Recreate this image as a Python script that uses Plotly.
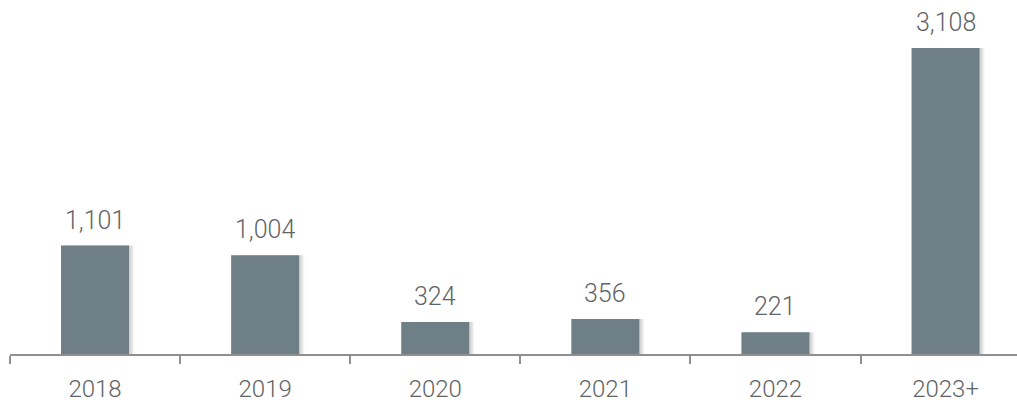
import plotly.graph_objects as go

categories = ["2018", "2019", "2020", "2021", "2022", "2023+"]
values = [1101, 1004, 324, 356, 221, 3108]
value_labels = ["1,101", "1,004", "324", "356", "221", "3,108"]

bar_color = "#6e7f86"
text_color = "#5f6466"
font_family = "Roboto, 'Open Sans', sans-serif"

fig = go.Figure()

# soft shadow layers
for dx, alpha in [(0.03, 0.05), (0.022, 0.07), (0.014, 0.09)]:
    fig.add_trace(go.Bar(
        x=categories, y=values, width=0.4, offset=-0.2 + dx,
        marker=dict(color=f"rgba(60,60,60,{alpha})", line=dict(width=0)),
        hoverinfo="skip", showlegend=False,
    ))

fig.add_trace(go.Bar(
    x=categories, y=values, width=0.4, offset=-0.2,
    marker=dict(color=bar_color, line=dict(width=0)),
    showlegend=False,
))

for i, (v, t) in enumerate(zip(values, value_labels)):
    fig.add_annotation(
        x=i, y=v, xref="x", yref="y", text=t, showarrow=False,
        yanchor="bottom", yshift=9,
        font=dict(family=font_family, size=25, color=text_color, weight=300),
    )

fig.update_layout(
    width=1017, height=402,
    margin=dict(l=10, r=0, t=0, b=48, autoexpand=False),
    paper_bgcolor="white", plot_bgcolor="white",
    barmode="overlay",
    bargap=0.6,
)
fig.update_xaxes(
    type="category", range=[-0.5, 5.42], automargin=False,
    showline=True, linecolor="#8f8f8f", linewidth=2,
    ticks="outside", tickson="boundaries", ticklen=8, tickwidth=2, tickcolor="#8f8f8f",
    showgrid=False, zeroline=False,
    tickfont=dict(family=font_family, size=24, color=text_color, weight=300),
    ticklabelstandoff=12,
)
fig.update_yaxes(range=[0, 3595], visible=False, showgrid=False, zeroline=False, automargin=False)

fig.write_html("out.html")
